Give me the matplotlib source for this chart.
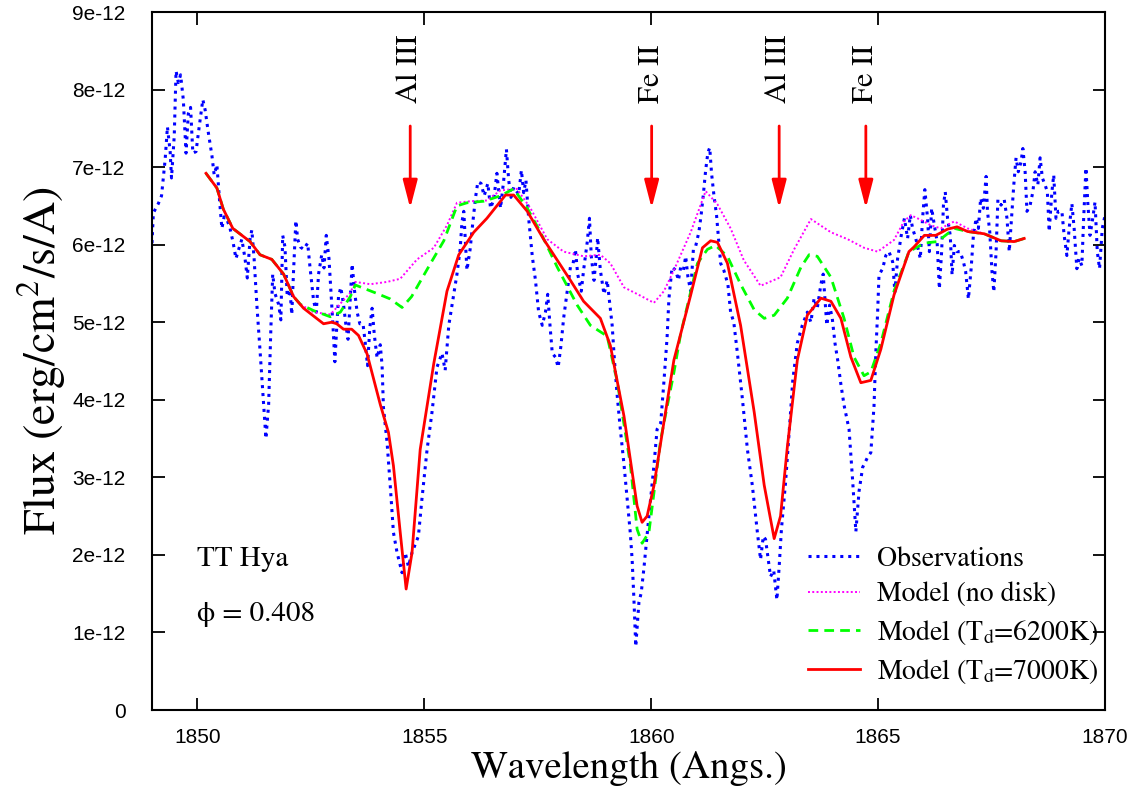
import matplotlib
matplotlib.use("Agg")
import matplotlib.pyplot as plt
from matplotlib.ticker import FixedLocator, FixedFormatter

# --- data (flux in units of 1e-12 erg/cm2/s/A) ---
obs_wave = [1849.00, 1849.03, 1849.14, 1849.21, 1849.29, 1849.34, 1849.40, 1849.43, 1849.49, 1849.53,
            1849.58, 1849.63, 1849.69, 1849.75, 1849.80, 1849.85, 1849.90, 1849.97, 1850.04, 1850.12,
            1850.17, 1850.24, 1850.32, 1850.37, 1850.43, 1850.49, 1850.54, 1850.59, 1850.66, 1850.72,
            1850.79, 1850.85, 1850.90, 1850.98, 1851.05, 1851.10, 1851.16, 1851.20, 1851.25, 1851.31,
            1851.38, 1851.46, 1851.51, 1851.57, 1851.62, 1851.66, 1851.71, 1851.79, 1851.84, 1851.88,
            1851.93, 1851.98, 1852.04, 1852.08, 1852.12, 1852.17, 1852.21, 1852.27, 1852.34, 1852.43,
            1852.48, 1852.56, 1852.62, 1852.67, 1852.74, 1852.79, 1852.84, 1852.90, 1852.96, 1852.99,
            1853.03, 1853.07, 1853.11, 1853.16, 1853.22, 1853.28, 1853.32, 1853.37, 1853.41, 1853.46,
            1853.52, 1853.58, 1853.65, 1853.70, 1853.75, 1853.80, 1853.85, 1853.90, 1853.96, 1854.03,
            1854.07, 1854.10, 1854.18, 1854.25, 1854.32, 1854.40, 1854.51, 1854.58, 1854.65, 1854.73,
            1854.87, 1854.95, 1855.06, 1855.17, 1855.28, 1855.39, 1855.46, 1855.54, 1855.61, 1855.72,
            1855.79, 1855.83, 1855.87, 1855.94, 1856.01, 1856.07, 1856.13, 1856.18, 1856.25, 1856.32,
            1856.40, 1856.46, 1856.53, 1856.60, 1856.68, 1856.75, 1856.81, 1856.86, 1856.91, 1856.97,
            1857.08, 1857.14, 1857.19, 1857.24, 1857.30, 1857.38, 1857.45, 1857.52, 1857.60, 1857.67,
            1857.72, 1857.77, 1857.82, 1857.89, 1857.95, 1858.01, 1858.07, 1858.15, 1858.22, 1858.28,
            1858.33, 1858.38, 1858.46, 1858.51, 1858.59, 1858.64, 1858.68, 1858.74, 1858.79, 1858.82,
            1858.88, 1858.96, 1859.03, 1859.09, 1859.14, 1859.19, 1859.25, 1859.32, 1859.40, 1859.47,
            1859.54, 1859.58, 1859.62, 1859.66, 1859.73, 1859.78, 1859.84, 1859.90, 1859.95, 1860.06,
            1860.13, 1860.21, 1860.28, 1860.35, 1860.39, 1860.46, 1860.54, 1860.60, 1860.65, 1860.71,
            1860.76, 1860.81, 1860.87, 1860.93, 1860.98, 1861.05, 1861.10, 1861.15, 1861.20, 1861.25,
            1861.29, 1861.33, 1861.38, 1861.44, 1861.49, 1861.53, 1861.60, 1861.69, 1861.75, 1861.82,
            1861.90, 1862.01, 1862.12, 1862.23, 1862.34, 1862.41, 1862.47, 1862.52, 1862.63, 1862.70,
            1862.77, 1862.82, 1862.87, 1862.96, 1863.04, 1863.12, 1863.22, 1863.33, 1863.44, 1863.52,
            1863.59, 1863.66, 1863.74, 1863.79, 1863.87, 1863.93, 1863.99, 1864.05, 1864.11, 1864.18,
            1864.25, 1864.36, 1864.44, 1864.51, 1864.58, 1864.66, 1864.77, 1864.84, 1864.91, 1864.95,
            1864.99, 1865.02, 1865.10, 1865.17, 1865.24, 1865.32, 1865.37, 1865.43, 1865.51, 1865.58,
            1865.65, 1865.71, 1865.76, 1865.83, 1865.93, 1865.98, 1866.03, 1866.09, 1866.13, 1866.18,
            1866.24, 1866.30, 1866.35, 1866.40, 1866.44, 1866.48, 1866.53, 1866.59, 1866.63, 1866.68,
            1866.74, 1866.81, 1866.88, 1866.93, 1866.99, 1867.05, 1867.10, 1867.16, 1867.21, 1867.26,
            1867.32, 1867.38, 1867.41, 1867.46, 1867.51, 1867.55, 1867.60, 1867.64, 1867.71, 1867.78,
            1867.84, 1867.89, 1867.94, 1867.99, 1868.04, 1868.09, 1868.15, 1868.19, 1868.24, 1868.28,
            1868.35, 1868.41, 1868.46, 1868.52, 1868.57, 1868.62, 1868.68, 1868.73, 1868.77, 1868.83,
            1868.87, 1868.92, 1868.97, 1869.05, 1869.10, 1869.16, 1869.21, 1869.27, 1869.32, 1869.38,
            1869.43, 1869.49, 1869.53, 1869.58, 1869.62, 1869.67, 1869.73, 1869.78, 1869.83, 1869.88,
            1869.94, 1870.02]
obs_flux = [6.02, 6.41, 6.53, 6.63, 7.10, 7.52, 7.20, 6.86, 7.40, 8.24,
            8.09, 8.19, 7.87, 7.18, 7.69, 7.77, 7.18, 7.20, 7.52, 7.87,
            7.74, 7.45, 7.15, 6.90, 7.03, 6.56, 6.21, 6.36, 6.31, 6.21,
            6.02, 5.82, 5.92, 6.07, 5.82, 5.57, 6.07, 6.19, 5.82, 5.23,
            4.64, 3.94, 3.50, 3.94, 4.93, 5.62, 5.37, 5.23, 5.03, 6.12,
            5.97, 5.33, 5.42, 5.10, 5.67, 6.31, 6.07, 5.97, 5.94, 6.02,
            5.72, 5.28, 5.13, 5.62, 5.87, 5.70, 6.12, 5.82, 5.23, 4.93,
            4.49, 4.93, 5.33, 5.45, 5.23, 4.93, 4.78, 5.33, 5.75, 5.42,
            5.13, 4.98, 4.98, 4.73, 4.44, 4.93, 5.18, 4.83, 4.54, 4.71,
            4.44, 3.90, 3.45, 2.89, 2.29, 2.03, 1.77, 2.03, 1.85, 2.03,
            2.24, 2.73, 3.35, 3.84, 4.42, 4.60, 4.38, 4.96, 5.22, 5.62,
            5.94, 6.29, 6.43, 5.67, 5.94, 6.29, 6.61, 6.81, 6.79, 6.63,
            6.79, 6.47, 6.58, 6.92, 6.47, 6.83, 7.23, 6.83, 6.61, 6.74,
            6.65, 6.96, 6.67, 6.83, 6.34, 5.85, 5.54, 5.13, 4.96, 5.13,
            5.36, 4.96, 4.60, 4.55, 4.42, 4.69, 5.05, 5.40, 5.71, 5.76,
            5.94, 5.62, 5.40, 5.67, 6.03, 6.34, 5.85, 5.54, 5.85, 6.09,
            5.67, 5.36, 5.54, 5.22, 4.96, 4.51, 4.06, 3.62, 3.17, 2.73,
            2.28, 1.94, 1.42, 0.82, 1.39, 1.51, 1.83, 2.20, 2.50, 3.15,
            3.62, 3.70, 4.23, 4.80, 5.30, 5.71, 5.67, 5.54, 5.71, 5.67,
            5.85, 5.58, 5.40, 5.94, 5.98, 6.16, 6.38, 6.65, 6.96, 7.19,
            7.25, 6.92, 6.65, 6.38, 6.03, 5.76, 5.67, 5.49, 5.13, 5.00,
            4.60, 4.01, 3.36, 2.89, 2.29, 1.94, 2.24, 2.20, 1.72, 1.80,
            1.42, 1.85, 2.33, 2.93, 3.58, 4.25, 4.73, 4.96, 5.13, 5.00,
            5.31, 5.18, 5.49, 5.62, 4.96, 5.22, 5.05, 4.73, 4.51, 4.20,
            3.93, 3.62, 2.95, 2.30, 2.82, 3.13, 3.26, 3.32, 3.92, 4.61,
            5.13, 5.61, 5.69, 5.86, 5.91, 5.78, 5.39, 5.82, 6.12, 6.34,
            6.08, 6.38, 6.21, 6.08, 5.82, 6.34, 6.71, 6.34, 5.91, 6.47,
            6.25, 6.04, 5.43, 5.91, 6.51, 6.68, 6.34, 6.12, 5.61, 5.99,
            5.91, 5.91, 5.78, 5.65, 5.30, 5.69, 6.12, 6.34, 6.21, 6.60,
            6.47, 6.88, 6.43, 6.17, 5.65, 5.39, 5.91, 6.58, 6.51, 6.58,
            6.34, 5.91, 6.34, 6.77, 7.12, 6.94, 7.07, 7.24, 6.94, 6.43,
            6.51, 6.68, 6.94, 6.77, 7.12, 6.86, 6.77, 6.68, 6.17, 6.68,
            6.90, 6.34, 6.43, 6.43, 6.12, 5.86, 6.21, 6.53, 6.21, 5.69,
            5.82, 5.73, 6.34, 6.99, 6.55, 6.12, 6.34, 6.55, 5.91, 5.69,
            6.21, 6.43]

nodisk_wave = [1850.19, 1850.43, 1850.57, 1850.78, 1851.16, 1851.38, 1851.64, 1851.90, 1852.12, 1852.27,
               1852.56, 1852.93, 1853.37, 1853.48, 1853.81, 1854.18, 1854.47, 1854.84, 1855.21, 1855.50,
               1855.72, 1856.01, 1856.38, 1856.68, 1857.04, 1857.34, 1857.71, 1858.07, 1858.51, 1858.88,
               1859.10, 1859.40, 1859.77, 1860.06, 1860.28, 1860.50, 1860.87, 1861.20, 1861.46, 1861.75,
               1862.04, 1862.41, 1862.85, 1863.15, 1863.52, 1863.96, 1864.33, 1864.69, 1864.99, 1865.35,
               1865.57, 1865.72, 1865.94, 1866.16, 1866.38, 1866.68, 1866.97, 1867.34, 1867.71, 1868.00,
               1868.22]
nodisk_flux = [6.92, 6.73, 6.46, 6.21, 6.04, 5.87, 5.81, 5.62, 5.33, 5.23,
               5.13, 5.10, 5.38, 5.52, 5.49, 5.52, 5.56, 5.81, 5.96, 6.25,
               6.54, 6.56, 6.57, 6.70, 6.72, 6.47, 6.07, 5.91, 5.85, 5.87,
               5.76, 5.45, 5.34, 5.25, 5.40, 5.67, 6.16, 6.69, 6.52, 6.21,
               5.80, 5.47, 5.58, 5.94, 6.33, 6.16, 6.07, 5.96, 5.91, 6.06,
               6.30, 6.38, 6.32, 6.25, 6.21, 6.30, 6.21, 6.14, 6.05, 6.04,
               6.08]

t6200_wave = [1850.19, 1850.43, 1850.57, 1850.78, 1851.16, 1851.38, 1851.64, 1851.90, 1852.12, 1852.27,
              1852.56, 1852.93, 1853.15, 1853.37, 1853.48, 1853.96, 1854.25, 1854.51, 1854.72, 1855.13,
              1855.43, 1855.72, 1855.94, 1856.31, 1856.68, 1856.97, 1857.27, 1857.56, 1857.93, 1858.37,
              1858.66, 1859.03, 1859.25, 1859.54, 1859.69, 1859.80, 1859.95, 1860.21, 1860.50, 1860.65,
              1861.02, 1861.24, 1861.42, 1861.68, 1861.97, 1862.27, 1862.49, 1862.71, 1863.00, 1863.30,
              1863.48, 1863.66, 1863.96, 1864.25, 1864.47, 1864.69, 1864.84, 1865.06, 1865.35, 1865.68,
              1866.02, 1866.31, 1866.68, 1866.97, 1867.34, 1867.71, 1868.00, 1868.22]
t6200_flux = [6.92, 6.73, 6.46, 6.21, 6.04, 5.87, 5.81, 5.62, 5.33, 5.23,
              5.15, 5.07, 5.13, 5.33, 5.48, 5.37, 5.30, 5.19, 5.33, 5.75,
              6.05, 6.50, 6.54, 6.56, 6.63, 6.72, 6.47, 6.16, 5.71, 5.22,
              4.96, 4.82, 4.24, 3.17, 2.33, 2.15, 2.29, 3.49, 4.35, 4.85,
              5.76, 5.94, 5.99, 5.85, 5.49, 5.16, 5.05, 5.09, 5.31, 5.71,
              5.87, 5.85, 5.58, 5.05, 4.55, 4.31, 4.36, 4.73, 5.40, 5.91,
              6.02, 6.04, 6.21, 6.17, 6.14, 6.05, 6.04, 6.08]

t7000_wave = [1850.19, 1850.43, 1850.57, 1850.78, 1851.16, 1851.38, 1851.64, 1851.90, 1852.12, 1852.34,
              1852.78, 1852.96, 1853.07, 1853.22, 1853.40, 1853.55, 1853.74, 1854.03, 1854.21, 1854.32,
              1854.47, 1854.60, 1854.73, 1854.91, 1855.21, 1855.50, 1855.76, 1856.09, 1856.38, 1856.68,
              1856.79, 1856.97, 1857.27, 1857.63, 1857.93, 1858.22, 1858.51, 1858.88, 1859.10, 1859.40,
              1859.54, 1859.69, 1859.80, 1859.91, 1860.06, 1860.28, 1860.50, 1860.87, 1861.13, 1861.31,
              1861.46, 1861.68, 1861.97, 1862.27, 1862.49, 1862.71, 1862.85, 1863.00, 1863.22, 1863.44,
              1863.74, 1863.96, 1864.18, 1864.40, 1864.62, 1864.84, 1865.06, 1865.35, 1865.68, 1865.79,
              1866.02, 1866.27, 1866.53, 1866.74, 1866.97, 1867.34, 1867.71, 1868.00, 1868.22]
t7000_flux = [6.92, 6.73, 6.46, 6.21, 6.04, 5.87, 5.81, 5.62, 5.33, 5.18,
              4.98, 5.00, 4.98, 4.91, 4.91, 4.83, 4.59, 3.94, 3.58, 3.15,
              2.29, 1.56, 2.03, 3.36, 4.47, 5.40, 5.87, 6.16, 6.34, 6.56,
              6.64, 6.64, 6.43, 6.07, 5.80, 5.54, 5.27, 5.05, 4.70, 3.79,
              3.23, 2.63, 2.42, 2.50, 2.89, 3.71, 4.51, 5.35, 5.96, 6.05,
              6.03, 5.76, 4.96, 3.84, 2.90, 2.21, 2.50, 3.39, 4.51, 5.09,
              5.31, 5.27, 5.05, 4.55, 4.22, 4.25, 4.65, 5.35, 5.91, 5.97,
              6.12, 6.12, 6.20, 6.23, 6.17, 6.14, 6.05, 6.04, 6.08]

line_ids = ["Al III", "Fe II", "Al III", "Fe II"]
line_waves = [1854.69, 1860.01, 1862.82, 1864.73]

yticks = [0, 1, 2, 3, 4, 5, 6, 7, 8, 9]
ytick_labels = ["0", "1e-12", "2e-12", "3e-12", "4e-12", "5e-12", "6e-12", "7e-12", "8e-12", "9e-12"]
xticks = [1850, 1855, 1860, 1865, 1870]

SCALE = 1e-12

plt.rcParams["font.family"] = "STIXGeneral"
plt.rcParams["mathtext.fontset"] = "stix"
TICK_FONT = ["Liberation Sans"]

fig = plt.figure(figsize=(11.4, 7.92), dpi=100)
ax = fig.add_axes([152 / 1140, 82 / 792, 953 / 1140, 698 / 792])

ax.plot(obs_wave, [v * SCALE for v in obs_flux], color="#0000ff", lw=2.2,
        linestyle=(0, (1.0, 1.6)), label="Observations")
ax.plot(nodisk_wave, [v * SCALE for v in nodisk_flux], color="#ff00ff", lw=1.4,
        linestyle=(0, (1.0, 1.2)), label="Model (no disk)")
ax.plot(t6200_wave, [v * SCALE for v in t6200_flux], color="#00ff00", lw=2.0,
        linestyle=(0, (3.5, 2.2)), label="Model (T$_{\\rm d}$=6200K)")
ax.plot(t7000_wave, [v * SCALE for v in t7000_flux], color="#ff0000", lw=2.0,
        label="Model (T$_{\\rm d}$=7000K)")

# line identifications with arrows
for name, w in zip(line_ids, line_waves):
    ax.annotate("", xy=(w, 6.47 * SCALE), xytext=(w, 7.53 * SCALE),
                arrowprops=dict(arrowstyle="-|>,head_length=0.85,head_width=0.22",
                                color="#ff0000", lw=2, mutation_scale=20,
                                shrinkA=0, shrinkB=0))
    ax.text(w, 7.83 * SCALE, name, rotation=90, ha="center", va="bottom", fontsize=22)

ax.text(1850.0, 1.86 * SCALE, "TT Hya", fontsize=21)
ax.text(1850.0, 1.15 * SCALE, "ϕ = 0.408", fontsize=21)

ax.set_xlim(1849, 1870)
ax.set_ylim(0, 9 * SCALE)
ax.xaxis.set_major_locator(FixedLocator(xticks))
ax.yaxis.set_major_locator(FixedLocator([t * SCALE for t in yticks]))
ax.yaxis.set_major_formatter(FixedFormatter(ytick_labels))
ax.tick_params(direction="in", length=9, width=1.3, top=True, right=True, labelsize=15)
ax.tick_params(axis="y", pad=19)
ax.tick_params(axis="x", pad=13)
for lab in ax.get_xticklabels() + ax.get_yticklabels():
    lab.set_family(TICK_FONT)
for spine in ax.spines.values():
    spine.set_linewidth(1.5)

ax.set_xlabel("Wavelength (Angs.)", fontsize=28, labelpad=3)
ax.set_ylabel("Flux (erg/cm$^2$/s/A)", fontsize=33)
ax.yaxis.set_label_coords(-0.088, 0.5)

ax.legend(loc="lower right", bbox_to_anchor=(0.9927, 0.0344), frameon=False, fontsize=20,
          handlelength=1.87, handletextpad=0.6, labelspacing=0.37,
          borderpad=0.0, borderaxespad=0.0)

fig.savefig("out.png", dpi=100)
